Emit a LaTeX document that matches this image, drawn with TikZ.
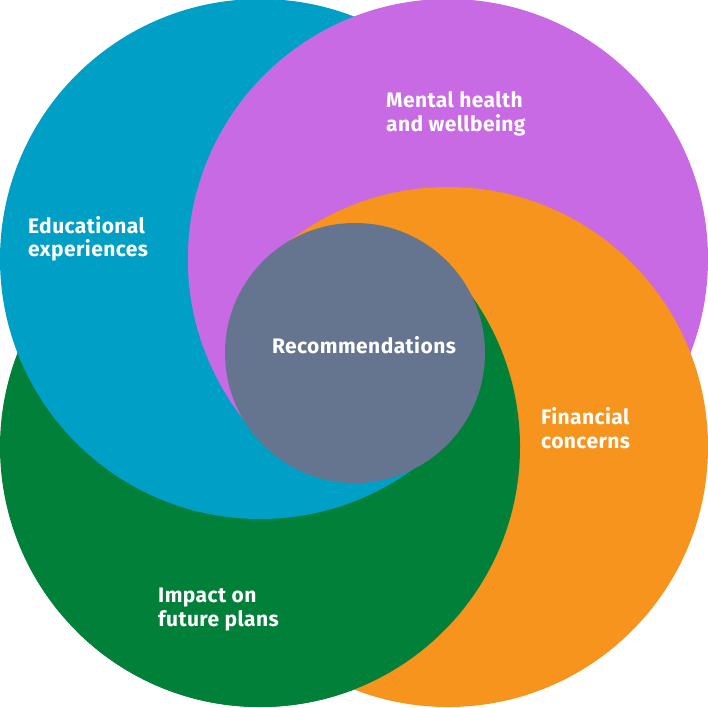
\documentclass[tikz,border=0pt]{standalone}
\usepackage{fontspec}
\setmainfont{Fira Sans}[LetterSpace=2]
\definecolor{cblue}{RGB}{0,160,198}
\definecolor{cpurple}{RGB}{200,106,227}
\definecolor{corange}{RGB}{247,148,30}
\definecolor{cgreen}{RGB}{0,128,57}
\definecolor{cgray}{RGB}{101,117,143}
\tikzset{
  lbl/.style={text=white, font=\bfseries\fontsize{21}{24}\selectfont, align=left, anchor=base west, inner sep=0pt},
}
\newcommand\cBlue{\fill[cblue] (cB) circle[radius=260pt];}
\newcommand\cPurple{\fill[cpurple] (cP) circle[radius=260pt];}
\newcommand\cOrange{\fill[corange] (cO) circle[radius=260pt];}
\newcommand\cGreen{\fill[cgreen] (cG) circle[radius=260pt];}
\begin{document}
\begin{tikzpicture}[x=1pt,y=-1pt]
\useasboundingbox (0,0) rectangle (708,708);
\coordinate (C) at (354,353);
\coordinate (cB) at (260,259);
\coordinate (cP) at (448,259);
\coordinate (cO) at (448,447);
\coordinate (cG) at (260,447);
% base order: green < blue < purple < orange
\cGreen \cBlue \cPurple \cOrange
% green over orange right of the anti-diagonal
\begin{scope}
\clip (C) -- ++(1200,-1200) -- ++(0,2400) -- ++(-2400,0) -- cycle;
\cGreen
\end{scope}
% blue on top in the lower wedge
\begin{scope}
\clip (C) -- ++(1200,1180) -- ++(-2400,0) -- cycle;
\cBlue
\end{scope}
% blue over orange, purple over all in the left wedge
\begin{scope}
\clip (C) -- ++(-1180,1200) -- ++(0,-2400) -- cycle;
\begin{scope}
\clip (cO) circle[radius=263pt];
\cBlue
\end{scope}
\cPurple
\end{scope}
\node[circle, fill=cgray, minimum size=260pt, inner sep=0pt] (rec) at (355,353) {};
\node[lbl, anchor=base] (rect) at (364,353) {Recommendations};
\node[lbl] (mh) at (386,131.5) {Mental health\\and wellbeing};
\node[lbl] (ed) at (28,257) {Educational\\experiences};
\node[lbl] (fc) at (541,448) {Financial\\concerns};
\node[lbl] (ip) at (158,626) {Impact on\\future plans};
\end{tikzpicture}
\end{document}
